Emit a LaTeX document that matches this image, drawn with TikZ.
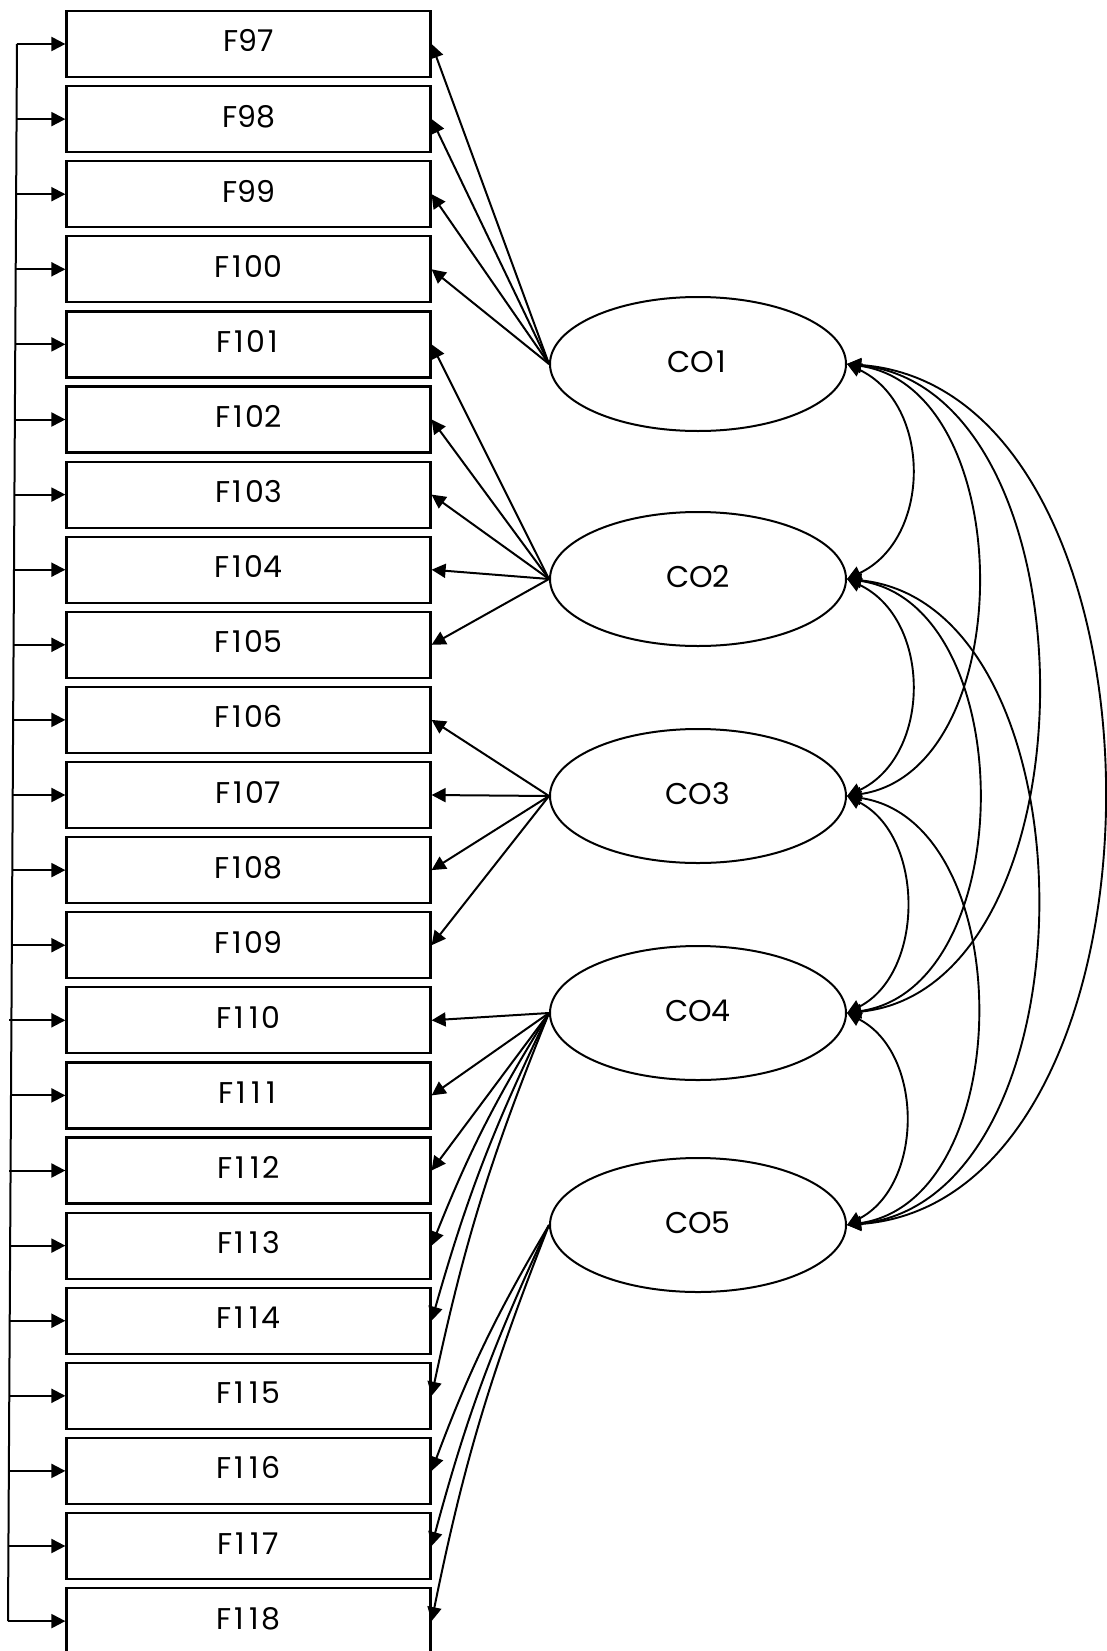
\documentclass[tikz,border=0pt]{standalone}
\usepackage{fontspec}
\setmainfont{Poppins}
\usetikzlibrary{arrows.meta,shapes.geometric}
% the digit one set on a wider, fixed advance
\newcommand\one{\makebox[15pt][c]{1}}

\begin{document}
\begin{tikzpicture}[x=1pt,y=-1pt,
  tip/.tip={Triangle[length=14pt,width=14pt]},
  lbl/.style={font=\fontsize{30}{36}\selectfont, text height=21pt, text depth=5pt},
  obs/.style={draw, line width=2.2pt, minimum width=364pt, minimum height=66pt,
    inner sep=0pt, lbl},
  latent/.style={draw, ellipse, line width=2pt, minimum width=296pt,
    minimum height=134pt, inner sep=0pt, lbl},
  load/.style={-tip, line width=2pt},
  cov/.style={tip-tip, line width=1.9pt},
  busline/.style={line width=2pt}]

\useasboundingbox (0,0) rectangle (1106,1651);

% observed indicators
\foreach \n/\t [count=\i from 0] in {97/F97, 98/F98, 99/F99, 100/F\one00,
    101/F\one0\one, 102/F\one02, 103/F\one03, 104/F\one04, 105/F\one05,
    106/F\one06, 107/F\one07, 108/F\one08, 109/F\one09, 110/F\one\one0,
    111/F\one\one\one, 112/F\one\one2, 113/F\one\one3, 114/F\one\one4,
    115/F\one\one5, 116/F\one\one6, 117/F\one\one7, 118/F\one\one8}{
  \node[obs] (F\n) at (248.5,{44+75.1*\i}) {\t};
  \coordinate (b\n) at ({17-0.4286*\i},{44+75.1*\i});
}

% latent constructs
\node[latent] (CO1) at (698,364)  {CO\one};
\node[latent] (CO2) at (698,579)  {CO2};
\node[latent] (CO3) at (698,796)  {CO3};
\node[latent] (CO4) at (698,1013) {CO4};
\node[latent] (CO5) at (698,1225) {CO5};

% loadings
\foreach \n in {97,...,100} \draw[load] (CO1.west) -- (F\n.east);
\foreach \n in {101,...,105} \draw[load] (CO2.west) -- (F\n.east);
\foreach \n in {106,...,109} \draw[load] (CO3.west) -- (F\n.east);
\foreach \n in {110,...,112} \draw[load] (CO4.west) -- (F\n.east);
\foreach \n in {113,...,115} \draw[load] (CO4.west) to[bend right=5] (F\n.east);
\foreach \n in {116,...,118} \draw[load] (CO5.west) to[bend right=5] (F\n.east);

% common feed on the left
\draw[busline] (b97) -- (b118);
\coordinate (s110) at (9,{44+75.1*13});
\coordinate (s112) at (9,{44+75.1*15});
\foreach \n in {97,...,109,111,113,114,115,116,117,118}
  \draw[load] (b\n) -- (F\n.west);
\draw[load] (s110) -- (F110.west);
\draw[load] (s112) -- (F112.west);

% covariances between constructs
\draw[cov] (CO1.east) .. controls +(85,40) and +(85,-40) .. (CO2.east);
\draw[cov] (CO2.east) .. controls +(85,40) and +(85,-40) .. (CO3.east);
\draw[cov] (CO3.east) .. controls +(78,40) and +(78,-40) .. (CO4.east);
\draw[cov] (CO4.east) .. controls +(77,40) and +(77,-40) .. (CO5.east);
\draw[cov] (CO1.east) .. controls +(173,25) and +(173,-25) .. (CO3.east);
\draw[cov] (CO2.east) .. controls +(174,25) and +(174,-25) .. (CO4.east);
\draw[cov] (CO3.east) .. controls +(172,25) and +(172,-25) .. (CO5.east);
\draw[cov] (CO1.east) .. controls +(253,25) and +(253,-25) .. (CO4.east);
\draw[cov] (CO2.east) .. controls +(252,25) and +(252,-25) .. (CO5.east);
\draw[cov] (CO1.east) .. controls +(341,25) and +(341,-25) .. (CO5.east);
\end{tikzpicture}
\end{document}
